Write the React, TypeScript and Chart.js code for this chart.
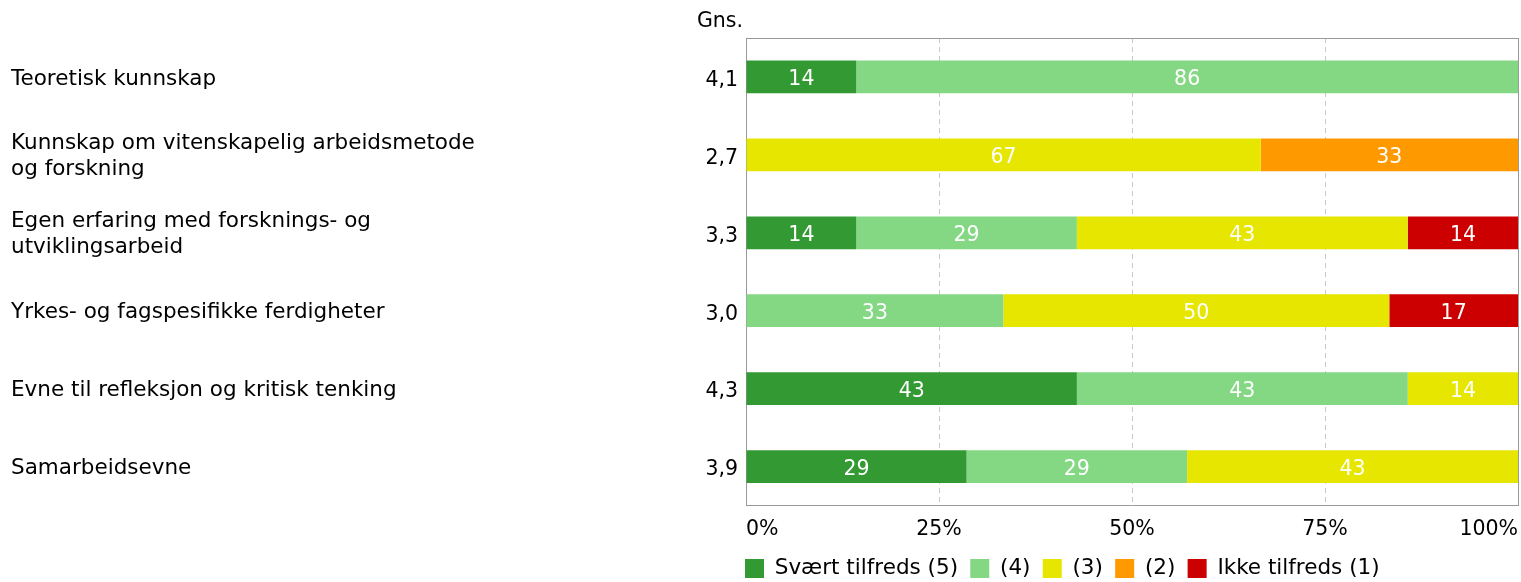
import React, { useEffect, useRef } from 'react';
import { Chart, registerables } from 'chart.js';

Chart.register(...registerables);

const categories: (string | string[])[] = [
  'Teoretisk kunnskap',
  ['Kunnskap om vitenskapelig arbeidsmetode', 'og forskning'],
  ['Egen erfaring med forsknings- og', 'utviklingsarbeid'],
  'Yrkes- og fagspesifikke ferdigheter',
  'Evne til refleksjon og kritisk tenking',
  'Samarbeidsevne',
];
const averages = ['4,1', '2,7', '3,3', '3,0', '4,3', '3,9'];
const averageTitle = 'Gns.';

const seriesNames = ['Svært tilfreds (5)', '(4)', '(3)', '(2)', 'Ikke tilfreds (1)'];
const seriesColors = ['#339933', '#84D884', '#E6E600', '#FF9900', '#CC0000'];

const svaertTilfreds = [14.29, 0, 14.29, 0, 42.86, 28.57];
const score4 = [85.71, 0, 28.57, 33.33, 42.86, 28.57];
const score3 = [0, 66.67, 42.86, 50.0, 14.29, 42.86];
const score2 = [0, 33.33, 0, 0, 0, 0];
const ikkeTilfreds = [0, 0, 14.29, 16.67, 0, 0];
const seriesValues = [svaertTilfreds, score4, score3, score2, ikkeTilfreds];

const xTickStep = 25;
const xMin = 0;
const xMax = 100;

const FONT = "'DejaVu Sans', Verdana, sans-serif";
const FS_TEXT = 21.5;
const FS_NUM = 20.5;
const LEGEND_PAD = 12.25;

const extrasPlugin = {
  id: 'extras',
  afterLayout(chart: any) {
    const lg = chart.legend;
    if (lg) {
      const h = lg.height;
      lg.left = chart.chartArea.left - 1 - LEGEND_PAD;
      lg.top = 545.5;
      lg.bottom = lg.top + h;
    }
  },
  afterDatasetsDraw(chart: any) {
    const ctx = chart.ctx;
    ctx.save();
    ctx.font = `${FS_NUM}px ${FONT}`;
    ctx.fillStyle = '#ffffff';
    ctx.textAlign = 'center';
    ctx.textBaseline = 'middle';
    chart.data.datasets.forEach((ds: any, i: number) => {
      const meta = chart.getDatasetMeta(i);
      meta.data.forEach((bar: any, j: number) => {
        const v = ds.data[j];
        if (!v) return;
        const p = bar.getProps(['x', 'y', 'base'], true);
        ctx.fillText(String(Math.round(v)), (p.x + p.base) / 2, p.y + 3);
      });
    });
    ctx.restore();
  },
  afterDraw(chart: any) {
    const ctx = chart.ctx;
    const s = chart.scales.yAvg;
    ctx.save();
    ctx.font = `${FS_NUM}px ${FONT}`;
    ctx.fillStyle = '#000000';
    ctx.textAlign = 'right';
    ctx.textBaseline = 'middle';
    ctx.fillText(averageTitle, s.right - 3, 22);
    ctx.restore();
  },
};

export default function App() {
  const ref = useRef<HTMLCanvasElement>(null);
  useEffect(() => {
    if (!ref.current) return;
    const chart = new Chart(ref.current, {
      type: 'bar',
      data: {
        labels: categories as any,
        datasets: seriesNames.map((name, i) => ({
          label: name,
          data: seriesValues[i],
          backgroundColor: seriesColors[i],
          borderWidth: 0,
          barPercentage: 0.42,
          categoryPercentage: 1,
        })),
      },
      options: {
        indexAxis: 'y',
        animation: false,
        responsive: true,
        maintainAspectRatio: false,
        layout: { autoPadding: false, padding: { left: 11, right: 3, top: 38, bottom: 0 } },
        font: { family: FONT, size: FS_TEXT },
        plugins: {
          legend: {
            position: 'bottom',
            align: 'start',
            labels: {
              boxWidth: 19,
              boxHeight: 19,
              padding: LEGEND_PAD,
              color: '#000',
              font: { family: FONT, size: FS_TEXT },
            },
          },
          tooltip: { enabled: false },
        },
        scales: {
          x: {
            type: 'linear',
            stacked: true,
            min: xMin,
            max: xMax,
            position: 'bottom',
            ticks: {
              stepSize: xTickStep,
              align: 'inner',
              padding: 0,
              color: '#000',
              font: { family: FONT, size: FS_NUM },
              callback: (v: any) => v + '%',
            },
            grid: {
              drawTicks: true,
              tickLength: 12,
              tickColor: 'rgba(0,0,0,0)',
              lineWidth: 1,
              color: (c: any) => {
                const v = c.tick?.value;
                return v === 25 || v === 50 || v === 75 ? '#c8c8c8' : '#999999';
              },
            },
            border: {
              display: true,
              color: '#999999',
              dash: (c: any) => {
                const v = c.tick?.value;
                return v === 25 || v === 50 || v === 75 ? [5, 4] : [];
              },
            },
            afterFit: (s: any) => {
              s.height = 32.75;
            },
          },
          xTop: {
            type: 'linear',
            position: 'top',
            min: xMin,
            max: xMax,
            ticks: { display: false, padding: 0 },
            grid: { display: false, drawTicks: false },
            border: { display: true, color: '#999999' },
          },
          y: {
            type: 'category',
            stacked: true,
            position: 'left',
            weight: 2,
            grid: { display: false, drawTicks: false },
            border: { display: false },
            ticks: {
              crossAlign: 'far',
              padding: 0,
              labelOffset: 2,
              color: '#000',
              font: { family: FONT, size: FS_TEXT, lineHeight: 26 / FS_TEXT },
            },
            afterFit: (s: any) => {
              s.width = 675;
            },
          },
          yAvg: {
            type: 'category',
            labels: averages,
            position: 'left',
            weight: 1,
            offset: true,
            grid: { display: false, drawTicks: false },
            border: { display: true, color: '#999999' },
            ticks: {
              padding: 8,
              labelOffset: 3.5,
              color: '#000',
              font: { family: FONT, size: FS_NUM },
            },
            afterFit: (s: any) => {
              s.width = 60;
            },
          },
        } as any,
      },
      plugins: [extrasPlugin],
    });
    return () => chart.destroy();
  }, []);
  return (
    <div style={{ position: 'absolute', left: 0, top: 0, width: '1521px', height: '582px' }}>
      <canvas ref={ref} />
    </div>
  );
}
